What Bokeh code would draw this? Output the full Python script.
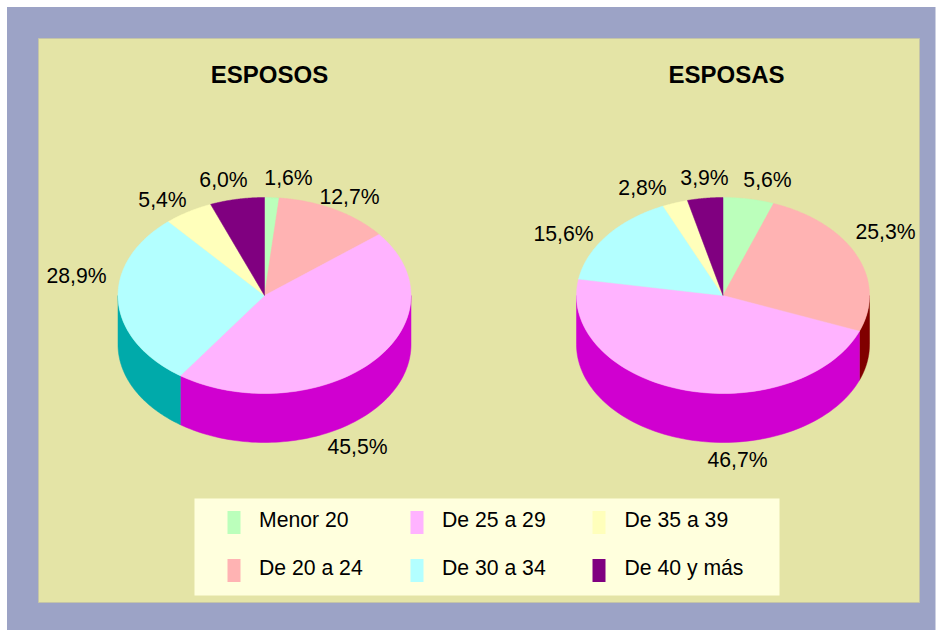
import numpy as np
from bokeh.plotting import figure
from bokeh.models import Range1d
from bokeh.core.properties import value
from bokeh.embed import file_html
from bokeh.resources import INLINE

# ---- data ----
categories = ["Menor 20", "De 20 a 24", "De 25 a 29", "De 30 a 34", "De 35 a 39", "De 40 y más"]
esposos = [1.6, 12.7, 45.5, 28.9, 5.4, 6.0]
esposas = [5.6, 25.3, 46.7, 15.6, 2.8, 3.9]
titles = ["ESPOSOS", "ESPOSAS"]

# ---- styles ----
top_colors = ["#BBFFBB", "#FFB3B3", "#FFB3FF", "#B3FFFF", "#FFFFBB", "#800080"]
side_colors = ["#00BB00", "#800000", "#D000D0", "#00AAAA", "#BBBB00", "#500050"]
FONT = "Liberation Sans"

# ---- layout (page pixels) ----
W, H = 939, 630
OUTER = (6.5, 935, 6.5, 630)
PANEL = (38, 919, 38, 602)
CENTRES = [264, 722.5]
CY, RX, RY, DEPTH = 295, 146.5, 98, 49
TITLE_XY = [(269, 73.5), (726, 73.5)]
LABEL_XY = [
    [(288, 177), (349, 196), (357, 446), (76, 275), (162, 199), (223, 179)],
    [(767, 179), (885, 231), (737, 459), (563, 233), (642, 187), (704, 177)],
]
LEG_BOX = (194, 779, 498, 595)
LEG_SW_X = [227, 227, 410, 410, 592, 592]
LEG_TX_X = [258.5, 258.5, 441.5, 441.5, 624, 624]
LEG_Y = [522, 570, 522, 570, 522, 570]
LEG_TY = [519, 567, 519, 567, 519, 567]

p = figure(width=W, height=H, output_backend="svg", toolbar_location=None,
           x_range=Range1d(0, W), y_range=Range1d(H, 0),
           x_axis_type=None, y_axis_type=None,
           min_border_left=0, min_border_right=0, min_border_top=0, min_border_bottom=0,
           border_fill_color="#FFFFFF", background_fill_color="#FFFFFF",
           outline_line_color=None)
p.grid.visible = False

p.quad(left=[OUTER[0]], right=[OUTER[1]], top=[OUTER[2]], bottom=[OUTER[3]],
       fill_color="#9CA3C6", line_color=None)
p.quad(left=[PANEL[0]], right=[PANEL[1]], top=[PANEL[2]], bottom=[PANEL[3]],
       fill_color="#E4E4A6", line_color="#C4C4A8", line_width=1)


def pie(cx, vals):
    v = np.array(vals, dtype=float)
    cum = np.concatenate([[0], np.cumsum(v)]) / v.sum() * 2 * np.pi
    sx, sy, sc, tx, ty, tc = [], [], [], [], [], []
    for i in range(len(v)):
        a0, a1 = cum[i], cum[i + 1]
        th = np.linspace(a0, a1, 80)
        tx.append(np.concatenate([[cx], cx + RX * np.sin(th)]))
        ty.append(np.concatenate([[CY], CY - RY * np.cos(th)]))
        tc.append(top_colors[i])
        lo, hi = max(a0, np.pi / 2), min(a1, 3 * np.pi / 2)
        if hi > lo:
            ts = np.linspace(lo, hi, 80)
            xs = cx + RX * np.sin(ts)
            ys = CY - RY * np.cos(ts)
            sx.append(np.concatenate([xs, xs[::-1]]))
            sy.append(np.concatenate([ys, ys[::-1] + DEPTH]))
            sc.append(side_colors[i])
    p.patches(sx, sy, fill_color=sc, line_color=sc, line_width=0.5)
    p.patches(tx, ty, fill_color=tc, line_color=tc, line_width=0.5)


def label(x, y, txt, size="21.2px", style="normal", align="center"):
    p.text(x=[x], y=[y], text=[txt], text_font=value(FONT), text_font_size=value(size),
           text_font_style=style, text_align=align, text_baseline="middle", text_color="#000000")


for k, vals in enumerate([esposos, esposas]):
    pie(CENTRES[k], vals)
    label(TITLE_XY[k][0], TITLE_XY[k][1], titles[k], size="24px", style="bold")
    for (x, y), v in zip(LABEL_XY[k], vals):
        label(x, y, f"{v:.1f}%".replace(".", ","))

# legend
p.quad(left=[LEG_BOX[0]], right=[LEG_BOX[1]], top=[LEG_BOX[2]], bottom=[LEG_BOX[3]],
       fill_color="#FFFFDD", line_color=None)
for i, c in enumerate(categories):
    p.rect(x=[LEG_SW_X[i] + 6.5], y=[LEG_Y[i]], width=13, height=23,
           fill_color=top_colors[i], line_color=None)
    label(LEG_TX_X[i], LEG_TY[i], c, align="left")

open("out.html", "w").write(file_html(p, INLINE))
